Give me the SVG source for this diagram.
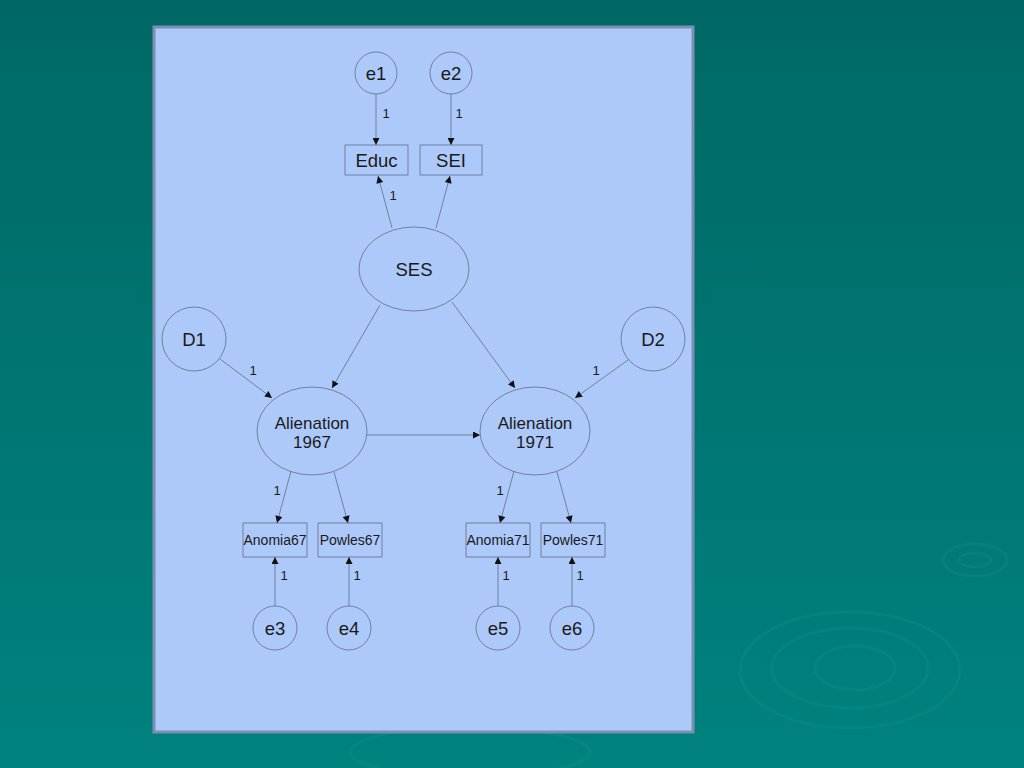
<svg xmlns="http://www.w3.org/2000/svg" width="1024" height="768" viewBox="0 0 1024 768">
<defs>
<linearGradient id="bg" x1="0" y1="0" x2="0" y2="1">
<stop offset="0" stop-color="#006864"/>
<stop offset="1" stop-color="#00827f"/>
</linearGradient>
<marker id="ah" viewBox="0 0 10 10" refX="10" refY="5" markerWidth="8" markerHeight="7" markerUnits="userSpaceOnUse" orient="auto">
<path d="M0,0 L10,5 L0,10 z" fill="#111"/>
</marker>
<style>
.n{fill:none;stroke:#55627a;stroke-width:0.7}
.c{stroke:#55627a;stroke-width:0.7;fill:none;marker-end:url(#ah)}
.t{font-family:"Liberation Sans",Arial,sans-serif;font-size:18.5px;fill:#1a1a1a;text-anchor:middle}
.a{font-family:"Liberation Sans",Arial,sans-serif;font-size:17px;fill:#1a1a1a;text-anchor:middle}
.s{font-family:"Liberation Sans",Arial,sans-serif;font-size:14px;fill:#1a1a1a;text-anchor:middle}
.l{font-family:"Liberation Sans",Arial,sans-serif;font-size:13px;fill:#1a1a1a;text-anchor:middle}
.r{fill:none;stroke:#1a9a96;stroke-opacity:0.2;stroke-width:3}
</style>
</defs>
<rect width="1024" height="768" fill="url(#bg)"/>
<g id="ripples">
<ellipse class="r" cx="975" cy="560" rx="32" ry="16"/>
<ellipse class="r" cx="975" cy="560" rx="16" ry="7"/>
<ellipse class="r" cx="850" cy="670" rx="110" ry="58"/>
<ellipse class="r" cx="850" cy="668" rx="78" ry="40"/>
<ellipse class="r" cx="855" cy="668" rx="40" ry="22"/>
<ellipse class="r" cx="470" cy="752" rx="120" ry="25"/>
</g>
<rect x="154" y="27" width="539" height="705" fill="#adc9f9" stroke="#7b8fb2" stroke-width="3"/>
<g id="connectors">
<line class="c" x1="376" y1="94" x2="376" y2="145"/>
<line class="c" x1="451" y1="94" x2="451" y2="145"/>
<line class="c" x1="392" y1="228" x2="378" y2="176"/>
<line class="c" x1="436" y1="228" x2="450" y2="176"/>
<line class="c" x1="380" y1="305" x2="332" y2="388"/>
<line class="c" x1="452" y1="302" x2="515" y2="388"/>
<line class="c" x1="220" y1="359" x2="272" y2="398"/>
<line class="c" x1="628" y1="360" x2="575" y2="398"/>
<line class="c" x1="367" y1="435" x2="480" y2="435"/>
<line class="c" x1="291" y1="471" x2="277" y2="523"/>
<line class="c" x1="334" y1="472" x2="348" y2="523"/>
<line class="c" x1="514" y1="471" x2="500" y2="523"/>
<line class="c" x1="557" y1="472" x2="571" y2="523"/>
<line class="c" x1="275" y1="606" x2="275" y2="557"/>
<line class="c" x1="349" y1="606" x2="349" y2="557"/>
<line class="c" x1="498" y1="606" x2="498" y2="557"/>
<line class="c" x1="572" y1="606" x2="572" y2="557"/>
<text class="l" x="386" y="118">1</text>
<text class="l" x="459" y="118">1</text>
<text class="l" x="393" y="200">1</text>
<text class="l" x="253" y="375">1</text>
<text class="l" x="596" y="375">1</text>
<text class="l" x="277" y="495">1</text>
<text class="l" x="500" y="495">1</text>
<text class="l" x="284" y="580">1</text>
<text class="l" x="357" y="580">1</text>
<text class="l" x="506" y="580">1</text>
<text class="l" x="580" y="580">1</text>
</g>
<g id="e1"><circle class="n" cx="376" cy="73" r="21"/><text class="t" x="376" y="80">e1</text></g>
<g id="e2"><circle class="n" cx="451" cy="73" r="21"/><text class="t" x="451" y="80">e2</text></g>
<g id="Educ"><rect class="n" x="345" y="145" width="63" height="30"/><text class="t" x="376.5" y="167">Educ</text></g>
<g id="SEI"><rect class="n" x="420" y="145" width="62" height="30"/><text class="t" x="451" y="167">SEI</text></g>
<g id="SES"><ellipse class="n" cx="414" cy="269" rx="55" ry="42"/><text class="t" x="414" y="276">SES</text></g>
<g id="D1"><circle class="n" cx="194" cy="339" r="32"/><text class="t" x="194" y="346">D1</text></g>
<g id="D2"><circle class="n" cx="653" cy="339" r="32"/><text class="t" x="653" y="346">D2</text></g>
<g id="Alienation1967"><ellipse class="n" cx="312" cy="431" rx="55" ry="44"/><text class="a" x="312" y="429">Alienation</text><text class="a" x="312" y="448">1967</text></g>
<g id="Alienation1971"><ellipse class="n" cx="535" cy="431" rx="55" ry="44"/><text class="a" x="535" y="429">Alienation</text><text class="a" x="535" y="448">1971</text></g>
<g id="Anomia67"><rect class="n" x="243" y="523" width="64" height="34"/><text class="s" x="275" y="545">Anomia67</text></g>
<g id="Powles67"><rect class="n" x="318" y="523" width="64" height="34"/><text class="s" x="350" y="545">Powles67</text></g>
<g id="Anomia71"><rect class="n" x="466" y="523" width="64" height="34"/><text class="s" x="498" y="545">Anomia71</text></g>
<g id="Powles71"><rect class="n" x="541" y="523" width="64" height="34"/><text class="s" x="573" y="545">Powles71</text></g>
<g id="e3"><circle class="n" cx="275" cy="628" r="22"/><text class="t" x="275" y="635">e3</text></g>
<g id="e4"><circle class="n" cx="349" cy="628" r="22"/><text class="t" x="349" y="635">e4</text></g>
<g id="e5"><circle class="n" cx="498" cy="628" r="22"/><text class="t" x="498" y="635">e5</text></g>
<g id="e6"><circle class="n" cx="572" cy="628" r="22"/><text class="t" x="572" y="635">e6</text></g>
</svg>
